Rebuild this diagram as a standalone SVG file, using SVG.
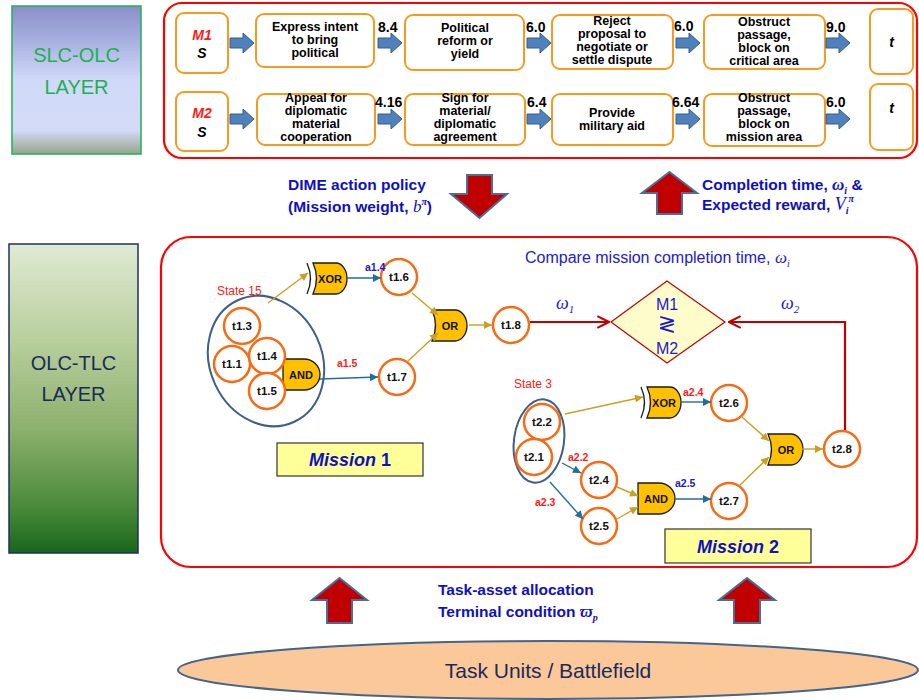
<svg xmlns="http://www.w3.org/2000/svg" width="919" height="700" viewBox="0 0 919 700">
  <defs>
    <linearGradient id="gSlc" x1="0" y1="0" x2="0" y2="1">
      <stop offset="0" stop-color="#8a8fc6"/>
      <stop offset="0.25" stop-color="#aab2e2"/>
      <stop offset="0.5" stop-color="#d0d9f9"/>
      <stop offset="0.84" stop-color="#d3dbf8"/>
      <stop offset="0.92" stop-color="#b6bfbe"/>
      <stop offset="1" stop-color="#94a58e"/>
    </linearGradient>
    <linearGradient id="gOlc" x1="0" y1="0" x2="0" y2="1">
      <stop offset="0" stop-color="#dfead3"/>
      <stop offset="0.3" stop-color="#bad09f"/>
      <stop offset="0.6" stop-color="#8cb06d"/>
      <stop offset="0.85" stop-color="#4a8a3a"/>
      <stop offset="1" stop-color="#19661a"/>
    </linearGradient>
    <!-- block arrow between mission steps -->
    <path id="stepArrow" d="M0,-5 H13 V-10 L24,0 L13,10 V5 H0 Z" fill="#4f81bd" stroke="#385d8a" stroke-width="1"/>
    <!-- logic gates -->
    <g id="xorGate">
      <path d="M8,0 H31 A11,15.5 0 0 1 31,31 H8 Q15,15.5 8,0 Z" class="gate"/>
      <path d="M2,0 Q9,15.5 2,31" fill="none" stroke="#1a1a1a" stroke-width="1.3"/>
      <text x="25" y="19.5" class="gl">XOR</text>
    </g>
    <g id="orGate">
      <path d="M0,0 H23 A12,15.5 0 0 1 23,31 H0 Q7,15.5 0,0 Z" class="gate"/>
      <text x="18" y="19.5" class="gl">OR</text>
    </g>
    <g id="andGate">
      <path d="M0,0 H21 A16,15.5 0 0 1 21,31 H0 Z" class="gate"/>
      <text x="18" y="19.5" class="gl">AND</text>
    </g>
    <marker id="hb" viewBox="0 0 10 10" refX="10" refY="5" markerWidth="9" markerHeight="8" orient="auto" markerUnits="userSpaceOnUse">
      <path d="M0,0 L10,5 L0,10 Z" fill="#1f6e9c"/>
    </marker>
    <marker id="hg" viewBox="0 0 10 10" refX="10" refY="5" markerWidth="9" markerHeight="8" orient="auto" markerUnits="userSpaceOnUse">
      <path d="M0,0 L10,5 L0,10 Z" fill="#c9a020"/>
    </marker>
    <marker id="hr" viewBox="0 0 12 12" refX="11" refY="6" markerWidth="14" markerHeight="14" orient="auto" markerUnits="userSpaceOnUse">
      <path d="M1,1 L11,6 L1,11" fill="none" stroke="#c00000" stroke-width="1.8"/>
    </marker>
    <style>
      .box { fill: #fff; stroke: #f39c1f; stroke-width: 2; }
      .bt { font: bold 12.5px "Liberation Sans", Arial, sans-serif; text-anchor: middle; fill: #000; }
      .num { font: bold 14px "Liberation Sans", Arial, sans-serif; fill: #000; }
      .mi { font: bold italic 14px "Liberation Sans", Arial, sans-serif; text-anchor: middle; }
      .tc { fill: #fff; stroke: #f76b15; stroke-width: 2.5; }
      .tl { font: bold 11.5px "Liberation Sans", Arial, sans-serif; text-anchor: middle; fill: #111; }
      .gate { fill: #ffc000; stroke: #1a1a1a; stroke-width: 1.3; }
      .gl { font: bold 11px "Liberation Sans", Arial, sans-serif; text-anchor: middle; fill: #111; }
      .cb { fill: none; stroke: #1f6e9c; stroke-width: 1.4; marker-end: url(#hb); }
      .cg { fill: none; stroke: #c9a020; stroke-width: 1.4; marker-end: url(#hg); }
      .cr { fill: none; stroke: #c00000; stroke-width: 2.2; marker-end: url(#hr); }
      .al { font: bold 10.5px "Liberation Sans", Arial, sans-serif; }
      .red { fill: #ff1a1a; }
      .blu { fill: #1a1acc; }
      .st { font: 12px "Liberation Sans", Arial, sans-serif; fill: #ff1a1a; }
      .bigArrow { fill: #c00000; stroke: #4a6e96; stroke-width: 2; }
      .info { font: bold 15.5px "Liberation Sans", Arial, sans-serif; fill: #1010c0; }
      .math { font-family: "Liberation Serif", "Times New Roman", serif; font-style: italic; }
      .frame { fill: none; stroke: #ff0000; stroke-width: 2.2; }
      .mlab { fill: #ffff99; stroke: #333; stroke-width: 1.2; }
      .mtext { font: bold 18px "Liberation Sans", Arial, sans-serif; fill: #1010c0; text-anchor: middle; }
    </style>
  </defs>

  <rect width="919" height="700" fill="#fff"/>

  <!-- layer labels -->
  <g id="layer-slc-olc">
    <rect x="12" y="6" width="129" height="148" fill="url(#gSlc)" stroke="#22b04f" stroke-width="1.5"/>
    <text x="76.5" y="62" font-family="Liberation Sans, Arial, sans-serif" font-size="20" fill="#1fb04f" text-anchor="middle">SLC-OLC</text>
    <text x="76.5" y="94" font-family="Liberation Sans, Arial, sans-serif" font-size="20" fill="#1fb04f" text-anchor="middle">LAYER</text>
  </g>
  <g id="layer-olc-tlc">
    <rect x="9" y="244" width="129" height="309" fill="url(#gOlc)" stroke="#1f3060" stroke-width="1.5"/>
    <text x="73.5" y="370" font-family="Liberation Sans, Arial, sans-serif" font-size="20" fill="#1a2a5a" text-anchor="middle">OLC-TLC</text>
    <text x="73.5" y="401" font-family="Liberation Sans, Arial, sans-serif" font-size="20" fill="#1a2a5a" text-anchor="middle">LAYER</text>
  </g>

  <!-- frames -->
  <rect id="frame-strategic" class="frame" x="164" y="3" width="753" height="155" rx="18"/>
  <rect id="frame-operational" class="frame" x="161" y="237" width="756" height="330" rx="30"/>

  <!-- mission 1 step chain -->
  <g id="m1-start"><rect class="box" x="176" y="13" width="52" height="60" rx="8"/>
    <text class="mi" x="202" y="40" fill="#ff1a1a">M1</text><text class="mi" x="202" y="58" fill="#000">S</text></g>
  <g id="m1-step1"><rect class="box" x="256" y="14" width="118" height="53" rx="8"/>
    <text class="bt" x="315" y="31">Express intent</text><text class="bt" x="315" y="44">to bring</text><text class="bt" x="315" y="57">political</text></g>
  <g id="m1-step2"><rect class="box" x="405" y="15" width="119" height="55" rx="8"/>
    <text class="bt" x="465" y="32">Political</text><text class="bt" x="465" y="45">reform or</text><text class="bt" x="465" y="58">yield</text></g>
  <g id="m1-step3"><rect class="box" x="552" y="15" width="121" height="54" rx="8"/>
    <text class="bt" x="612" y="25">Reject</text><text class="bt" x="612" y="38">proposal to</text><text class="bt" x="612" y="51">negotiate or</text><text class="bt" x="612" y="64">settle dispute</text></g>
  <g id="m1-step4"><rect class="box" x="704" y="15" width="121" height="54" rx="8"/>
    <text class="bt" x="764" y="26">Obstruct</text><text class="bt" x="764" y="39">passage,</text><text class="bt" x="764" y="52">block on</text><text class="bt" x="764" y="65">critical area</text></g>
  <g id="m1-end"><rect class="box" x="870" y="9" width="43" height="65" rx="8"/>
    <text class="mi" x="891.5" y="47" fill="#000">t</text></g>

  <!-- mission 2 step chain -->
  <g id="m2-start"><rect class="box" x="176" y="92" width="52" height="59" rx="8"/>
    <text class="mi" x="202" y="118" fill="#ff1a1a">M2</text><text class="mi" x="202" y="137" fill="#000">S</text></g>
  <g id="m2-step1"><rect class="box" x="257" y="94" width="118" height="51" rx="8"/>
    <text class="bt" x="316" y="102">Appeal for</text><text class="bt" x="316" y="115">diplomatic</text><text class="bt" x="316" y="128">material</text><text class="bt" x="316" y="141">cooperation</text></g>
  <g id="m2-step2"><rect class="box" x="405" y="94" width="120" height="51" rx="8"/>
    <text class="bt" x="465" y="102">Sign for</text><text class="bt" x="465" y="115">material/</text><text class="bt" x="465" y="128">diplomatic</text><text class="bt" x="465" y="141">agreement</text></g>
  <g id="m2-step3"><rect class="box" x="552" y="94" width="121" height="51" rx="8"/>
    <text class="bt" x="612" y="117">Provide</text><text class="bt" x="612" y="130">military aid</text></g>
  <g id="m2-step4"><rect class="box" x="704" y="94" width="121" height="52" rx="8"/>
    <text class="bt" x="764" y="102">Obstruct</text><text class="bt" x="764" y="115">passage,</text><text class="bt" x="764" y="128">block on</text><text class="bt" x="764" y="141">mission area</text></g>
  <g id="m2-end"><rect class="box" x="870" y="84" width="43" height="66" rx="8"/>
    <text class="mi" x="891.5" y="113" fill="#000">t</text></g>

  <!-- step transitions with durations -->
  <g id="step-connectors">
    <use href="#stepArrow" x="230" y="43"/>
    <use href="#stepArrow" x="378" y="43"/>
    <use href="#stepArrow" x="527" y="43"/>
    <use href="#stepArrow" x="676" y="43"/>
    <use href="#stepArrow" x="826" y="43"/>
    <use href="#stepArrow" x="230" y="119"/>
    <use href="#stepArrow" x="378" y="119"/>
    <use href="#stepArrow" x="527" y="119"/>
    <use href="#stepArrow" x="676" y="119"/>
    <use href="#stepArrow" x="826" y="119"/>
    <text class="num" x="378" y="32">8.4</text>
    <text class="num" x="526" y="32">6.0</text>
    <text class="num" x="674" y="31">6.0</text>
    <text class="num" x="826" y="32">9.0</text>
    <text class="num" x="375" y="107">4.16</text>
    <text class="num" x="527" y="107">6.4</text>
    <text class="num" x="672" y="107">6.64</text>
    <text class="num" x="826" y="107">6.0</text>
  </g>

  <!-- exchanges between layers -->
  <g id="policy-down">
    <path class="bigArrow" d="M467,175 H492 V194 H507 L479.5,218 L451,194 H467 Z"/>
    <text class="info" x="288" y="190">DIME action policy</text>
    <text class="info" x="288" y="212">(Mission weight, <tspan class="math" font-weight="normal" font-size="17">b</tspan><tspan font-size="10" dy="-7" class="math">π</tspan><tspan dy="7">)</tspan></text>
  </g>
  <g id="reward-up">
    <path class="bigArrow" d="M669.5,172 L697,193 H682 V214 H657 V193 H642 Z"/>
    <text class="info" x="702" y="190">Completion time, <tspan class="math" font-size="17">ω</tspan><tspan class="math" font-size="10" dy="4">i</tspan><tspan dy="-4"> &amp;</tspan></text>
    <text class="info" x="702" y="210">Expected reward,  <tspan class="math" font-weight="normal" font-size="18">V</tspan><tspan class="math" font-size="10" dy="4">i</tspan><tspan class="math" font-size="10" dy="-12">π</tspan></text>
  </g>
  <g id="allocation-up">
    <path class="bigArrow" d="M339.5,578 L367,600 H352 V623 H327 V600 H312 Z"/>
    <path class="bigArrow" d="M747,578 L775,600 H760 V623 H734 V600 H719 Z"/>
    <text class="info" x="438" y="595">Task-asset allocation</text>
    <text class="info" x="438" y="617">Terminal condition <tspan class="math" font-size="17">ϖ</tspan><tspan class="math" font-size="10" dy="4">p</tspan></text>
  </g>

  <!-- comparison node -->
  <text x="525" y="263" font-family="Liberation Sans, Arial, sans-serif" font-size="16" fill="#2020d0">Compare mission completion time, <tspan class="math" font-size="17">ω</tspan><tspan class="math" font-size="10" dy="4">i</tspan></text>
  <g id="compare">
    <polygon points="667,281 725,322 667,363 611,322" fill="#fffccc" stroke="#c00000" stroke-width="1.2"/>
    <text x="667" y="310" font-family="Liberation Sans, Arial, sans-serif" font-size="16" fill="#1a1acc" text-anchor="middle">M1</text>
    <text x="667" y="331" font-family="DejaVu Sans, sans-serif" font-size="22" fill="#1a1acc" text-anchor="middle">≷</text>
    <text x="667" y="354" font-family="Liberation Sans, Arial, sans-serif" font-size="16" fill="#1a1acc" text-anchor="middle">M2</text>
  </g>

  <!-- mission 1 network -->
  <g id="m1-state">
    <ellipse cx="266" cy="361" rx="56" ry="67" transform="rotate(-25 266 361)" fill="none" stroke="#3e5f86" stroke-width="2"/>
    <text class="st" x="217" y="295">State 15</text>
  </g>
  <use id="m1-and" href="#andGate" x="283" y="359"/>
  <g id="t1.3"><circle class="tc" cx="242" cy="326" r="18"/><text class="tl" x="242" y="330">t1.3</text></g>
  <g id="t1.1"><circle class="tc" cx="232" cy="364" r="18"/><text class="tl" x="232" y="368">t1.1</text></g>
  <g id="t1.4"><circle class="tc" cx="267" cy="356" r="18"/><text class="tl" x="267" y="360">t1.4</text></g>
  <g id="t1.5"><circle class="tc" cx="267" cy="391" r="18"/><text class="tl" x="267" y="395">t1.5</text></g>
  <use id="m1-xor" href="#xorGate" x="305" y="263"/>
  <g id="t1.6"><circle class="tc" cx="399" cy="277" r="18"/><text class="tl" x="399" y="281">t1.6</text></g>
  <g id="t1.7"><circle class="tc" cx="397" cy="377" r="18"/><text class="tl" x="397" y="381">t1.7</text></g>
  <use id="m1-or" href="#orGate" x="432" y="310"/>
  <g id="t1.8"><circle class="tc" cx="511" cy="325" r="18"/><text class="tl" x="511" y="329">t1.8</text></g>
  <g id="mission1-label">
    <rect class="mlab" x="277" y="443" width="146" height="33"/>
    <text class="mtext" x="350" y="466"><tspan font-style="italic">Mission</tspan> 1</text>
  </g>

  <!-- mission 2 network -->
  <g id="m2-state">
    <ellipse cx="539" cy="441" rx="25" ry="42" transform="rotate(8 539 441)" fill="none" stroke="#3e5f86" stroke-width="2"/>
    <text class="st" x="514" y="388">State 3</text>
  </g>
  <g id="t2.2"><circle class="tc" cx="542" cy="422" r="18"/><text class="tl" x="542" y="426">t2.2</text></g>
  <g id="t2.1"><circle class="tc" cx="534" cy="457" r="18"/><text class="tl" x="534" y="461">t2.1</text></g>
  <use id="m2-xor" href="#xorGate" x="639" y="387"/>
  <g id="t2.6"><circle class="tc" cx="729" cy="403" r="18"/><text class="tl" x="729" y="407">t2.6</text></g>
  <g id="t2.4"><circle class="tc" cx="599" cy="480" r="18"/><text class="tl" x="599" y="484">t2.4</text></g>
  <g id="t2.5"><circle class="tc" cx="599" cy="526" r="18"/><text class="tl" x="599" y="530">t2.5</text></g>
  <use id="m2-and" href="#andGate" x="638" y="483"/>
  <g id="t2.7"><circle class="tc" cx="729" cy="501" r="18"/><text class="tl" x="729" y="505">t2.7</text></g>
  <use id="m2-or" href="#orGate" x="768" y="434"/>
  <g id="t2.8"><circle class="tc" cx="842" cy="449" r="18"/><text class="tl" x="842" y="453">t2.8</text></g>
  <g id="mission2-label">
    <rect class="mlab" x="665" y="529" width="146" height="34"/>
    <text class="mtext" x="738" y="553"><tspan font-style="italic">Mission</tspan> 2</text>
  </g>

  <!-- connectors -->
  <g id="connectors">
    <path class="cg" d="M268,303 L308,273"/>
    <path class="cb" d="M347,278 H381"/>
    <path class="cb" d="M320,379 L378,377"/>
    <path class="cg" d="M412,293 L438,315"/>
    <path class="cg" d="M408,361 L438,333"/>
    <path class="cg" d="M469,325 H492"/>
    <path class="cr" d="M530,322 H609"/>
    <path class="cr" d="M845,430 V322 H729"/>

    <path class="cg" d="M565,414 L643,397"/>
    <path class="cb" d="M680,402 H711"/>
    <path class="cb" d="M562,463 L581,473"/>
    <path class="cb" d="M550,482 L583,519"/>
    <path class="cg" d="M617,487 L638,496"/>
    <path class="cg" d="M617,519 L638,507"/>
    <path class="cb" d="M675,499 H711"/>
    <path class="cg" d="M742,417 L769,441"/>
    <path class="cg" d="M739,486 L769,457"/>
    <path class="cg" d="M802,449 H823"/>

    <text class="al blu" x="365" y="271">a1.4</text>
    <text class="al red" x="337" y="367">a1.5</text>
    <text class="al red" x="683" y="396">a2.4</text>
    <text class="al red" x="568" y="461">a2.2</text>
    <text class="al red" x="535" y="506">a2.3</text>
    <text class="al blu" x="675" y="487">a2.5</text>
    <text x="556" y="309" class="math" font-size="18" fill="#2020d0">ω<tspan font-size="11" dy="4">1</tspan></text>
    <text x="781" y="309" class="math" font-size="18" fill="#2020d0">ω<tspan font-size="11" dy="4">2</tspan></text>
  </g>

  <!-- task units -->
  <g id="task-units">
    <ellipse cx="548" cy="670" rx="370" ry="29" fill="#fbc89a" stroke="#44648a" stroke-width="2"/>
    <text x="548" y="678" font-family="Liberation Sans, Arial, sans-serif" font-size="21" fill="#1a2a5a" text-anchor="middle">Task Units / Battlefield</text>
  </g>
</svg>
